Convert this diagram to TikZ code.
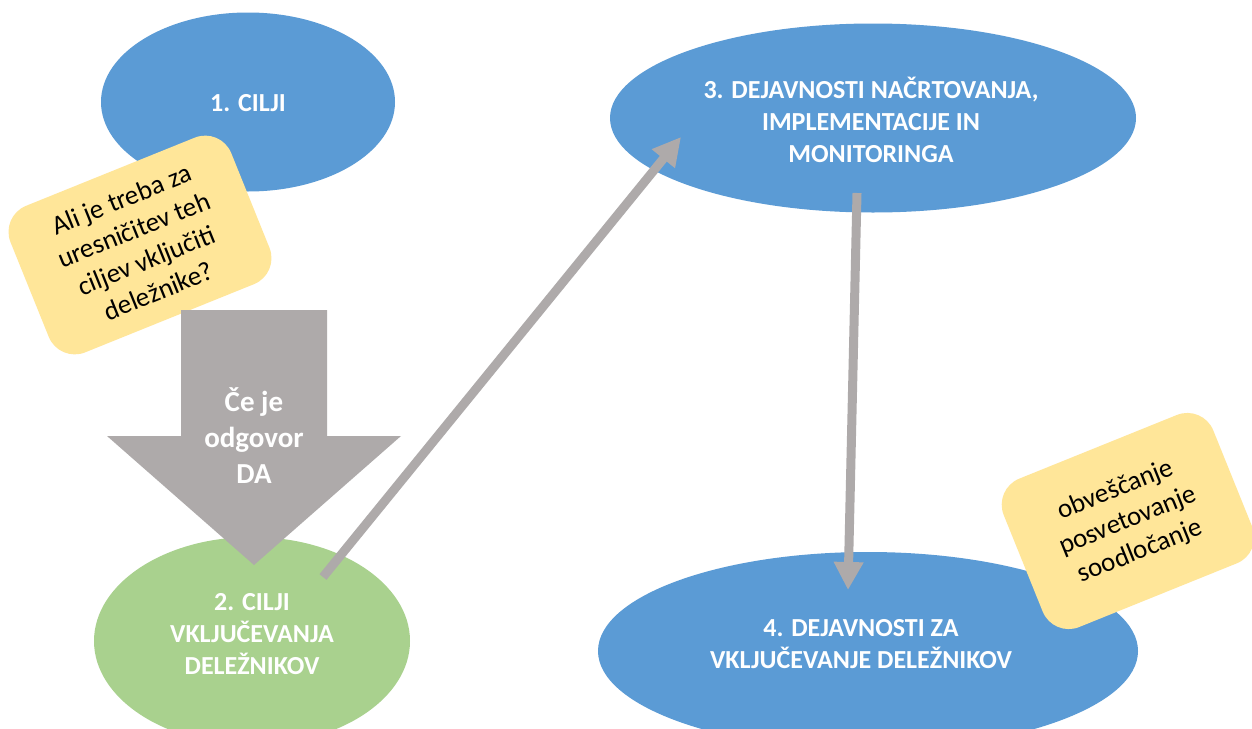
\documentclass[tikz,border=0pt]{standalone}
\usepackage{fontspec}
\setmainfont{Carlito}
\usetikzlibrary{shapes.geometric,arrows.meta}
\definecolor{cblue}{HTML}{5B9BD5}
\definecolor{cgreen}{HTML}{A9D18E}
\definecolor{cgray}{HTML}{AEAAAA}
\definecolor{cyellow}{HTML}{FFE699}
\begin{document}
\begin{tikzpicture}[x=1pt,y=-1pt,
  oval/.style={ellipse, inner sep=0pt, draw=none},
  ovaltext/.style={text=white, font=\bfseries\fontsize{26}{32}\selectfont, align=center, inner sep=0pt},
  notebox/.style={rounded corners=28pt, fill=cyellow, inner sep=0pt, align=center,
    font=\fontsize{27}{33}\selectfont, rotate=22},
  conn/.style={draw=cgray, line width=9pt, -{Triangle[length=28pt,width=28pt]}},
  bigarrow/.style={fill=cgray}]
\useasboundingbox (0,0) rectangle (1252,728);
\clip (0,0) rectangle (1252,728);
\fill[white] (0,0) rectangle (1252,728);

% 1. CILJI
\node[oval, fill=cblue, minimum width=294pt, minimum height=179pt] (e1) at (248,102) {};
\node[ovaltext] (t1) at (248,103) {1. CILJI};

% question note
\node[notebox, minimum width=238pt, minimum height=158pt] (n1) at (140,245)
  {Ali je treba za\\uresničitev teh\\ciljev vključiti\\deležnike?};

% 2. green ellipse
\node[oval, fill=cgreen, minimum width=316pt, minimum height=208pt] (e2) at (252,641) {};
\node[ovaltext] (t2) at (252,634) {2. CILJI\\VKLJUČEVANJA\\DELEŽNIKOV};

% big down arrow
\fill[bigarrow] (181,310) -- (327,310) -- (327,436) -- (401,436) -- (254,565)
  -- (107,436) -- (181,436) -- cycle;
\node[text=white, font=\bfseries\fontsize{29}{36}\selectfont, align=center, inner sep=0pt]
  (q) at (254,436) {Če je\\odgovor\\DA};

% 3. ellipse
\node[oval, fill=cblue, minimum width=526pt, minimum height=189pt] (e3) at (873,118) {};
\node[ovaltext] (t3) at (871,120) {3. DEJAVNOSTI NAČRTOVANJA,\\IMPLEMENTACIJE IN\\MONITORINGA};

% 4. ellipse
\node[oval, fill=cblue, minimum width=540pt, minimum height=198pt] (e4) at (868,651) {};
\node[ovaltext] (t4) at (861,644) {4. DEJAVNOSTI ZA\\VKLJUČEVANJE DELEŽNIKOV};

% connectors
\coordinate (d1) at (323,577);
\coordinate (d2) at (681,137);
\coordinate (v1) at (857,193);
\coordinate (v2) at (848,590);
\draw[conn] (d1) -- (d2);
\draw[conn] (v1) -- (v2);

% levels note
\node[notebox, minimum width=226pt, minimum height=160pt] (n2) at (1128,521)
  {obveščanje\\posvetovanje\\soodločanje};
\end{tikzpicture}
\end{document}
